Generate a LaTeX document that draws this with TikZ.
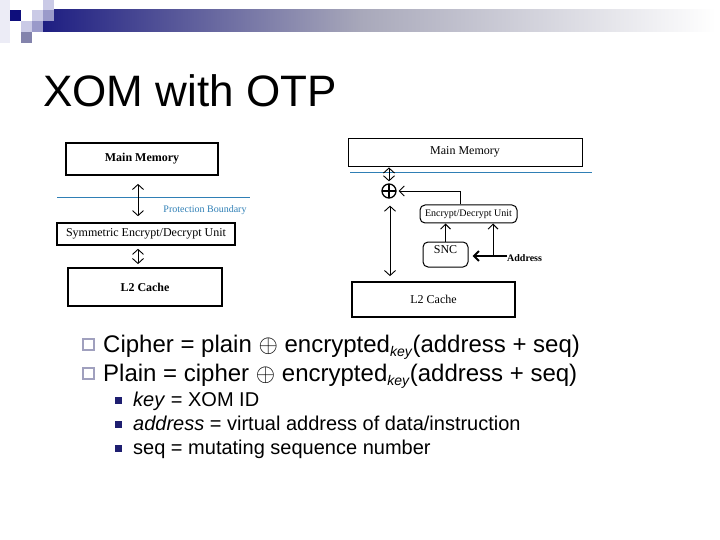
\documentclass[tikz,border=0pt]{standalone}
\usepackage{fontspec}
\setmainfont{Liberation Sans}
\newfontfamily\serifdiag{Liberation Serif}
\usepackage{xcolor}
\usepackage{tikz}
\usetikzlibrary{shapes,arrows.meta,positioning}

\definecolor{barnavy}{HTML}{1E1E82}
\definecolor{barmid}{HTML}{A8A8BA}
\definecolor{sqdark}{HTML}{0E0E7C}
\definecolor{sqlight}{HTML}{CACAE6}
\definecolor{sqmid}{HTML}{9A9ACA}
\definecolor{sqfaint}{HTML}{ECECF6}
\definecolor{bulgray}{HTML}{A0A0BE}
\definecolor{subnavy}{HTML}{1E1E70}
\definecolor{bndblue}{HTML}{2F7FB5}

\newcommand{\keysub}{\raisebox{-4pt}{\fontsize{14}{14}\selectfont\textit{key}}}

\begin{document}
\begin{tikzpicture}[
    x=1pt, y=-1pt,
    box/.style={
        rectangle,
        draw,
        line width=1.8pt,
        inner sep=0pt,
        font=\serifdiag\fontsize{12}{14}\selectfont
    },
    thinbox/.style={
        rectangle,
        draw,
        line width=0.9pt,
        inner sep=0pt,
        font=\serifdiag\fontsize{12}{14}\selectfont
    },
    rbox/.style={
        rectangle,
        draw,
        rounded corners=5pt,
        line width=1pt,
        inner sep=0pt,
        font=\serifdiag\fontsize{10}{12}\selectfont
    },
    xorop/.style={
        circle,
        draw,
        line width=1.3pt,
        minimum size=14pt,
        inner sep=0pt,
        path picture={
            \draw[line width=1.3pt] (path picture bounding box.north) -- (path picture bounding box.south)
                (path picture bounding box.west) -- (path picture bounding box.east);
        }
    },
    dbl/.style={
        draw, line width=0.9pt,
        {Straight Barb[length=5pt,width=11pt]}-{Straight Barb[length=5pt,width=11pt]}
    },
    tip/.style={
        draw, line width=0.9pt,
        -{Straight Barb[length=5pt,width=10pt]}
    },
    bnd/.style={draw=bndblue, line width=1pt},
    bul/.style={rectangle, draw=bulgray, line width=1.8pt, minimum size=11pt, inner sep=0pt},
    subbul/.style={rectangle, fill=subnavy, minimum size=7pt, inner sep=0pt},
    txt/.style={anchor=base west, font=\fontsize{24}{28}\selectfont},
    subtxt/.style={anchor=base west, font=\fontsize{20}{24}\selectfont}
]
    \useasboundingbox (0,0) rectangle (720,540);

    % Header
    \fill[sqfaint] (0,0) rectangle (10,43);
    \shade[left color=barnavy, right color=barmid] (43,10) rectangle (361,32);
    \shade[left color=barmid, right color=white] (360,10) rectangle (716,32);
    \fill[sqlight] (43,0) rectangle (54,10);
    \fill[sqdark] (10,10) rectangle (21,21);
    \fill[sqlight] (32,10) rectangle (43,21);
    \fill[sqmid] (43,10) rectangle (54,21);
    \fill[sqlight] (21,21) rectangle (32,32);
    \fill[sqmid] (32,21) rectangle (43,32);
    \fill[sqmid!85!black] (21,32) rectangle (32,43);

    \node[anchor=base west, font=\fontsize{44}{50}\selectfont, inner sep=0pt] (title) at (43,107) {XOM with OTP};

    % Nodes (left)
    \node[box, minimum width=152pt, minimum height=32pt, font=\serifdiag\fontsize{12}{14}\selectfont\bfseries] (mainL) at (142,159) {Main Memory};
    \node[thinbox, line width=1.6pt, below of=mainL, node distance=75pt, xshift=4pt, minimum width=178pt, minimum height=22pt] (symL) {Symmetric Encrypt/Decrypt Unit};
    \node[box, below of=symL, node distance=53pt, xshift=-1pt, minimum width=154pt, minimum height=38pt, font=\serifdiag\fontsize{12}{14}\selectfont\bfseries] (l2L) {L2 Cache};
    \coordinate (bndLa) at (57,198);
    \coordinate (bndLb) at (250,198);
    \node[anchor=base, text=bndblue, font=\serifdiag\fontsize{10}{12}\selectfont, inner sep=0pt] (protL) at (205,212) {Protection Boundary};

    % Nodes (right)
    \node[thinbox, minimum width=234pt, minimum height=28pt] (mainR) at (465,152) {Main Memory};
    \node[xorop] (xor) at (389,191) {};
    \node[rbox, minimum width=97pt, minimum height=18pt] (encR) at (468.5,214) {Encrypt/Decrypt Unit};
    \node[rbox, below of=encR, node distance=40.5pt, xshift=-23pt, minimum width=45pt, minimum height=25pt, text depth=9pt, font=\serifdiag\fontsize{12}{14}\selectfont] (sncR) {SNC};
    \node[anchor=west, inner sep=0pt, font=\serifdiag\fontsize{10}{12}\selectfont\bfseries] (addr) at (507,258) {Address};
    \coordinate (branch) at (493,256);
    \node[box, minimum width=163pt, minimum height=35pt] (l2R) at (433.5,299.5) {L2 Cache};
    \coordinate (bndRa) at (350,173);
    \coordinate (bndRb) at (592,173);

    % Edges
    \path[bnd] (bndLa) -- (bndLb);
    \path[bnd] (bndRa) -- (bndRb);
    \path[dbl, shorten <=8pt, shorten >=6pt] ([xshift=-4pt]mainL.south) -- ([xshift=-4pt]mainL.south |- symL.north);
    \path[dbl, shorten <=3pt, shorten >=3pt] ([xshift=-8pt]symL.south) -- ([xshift=-8pt]symL.south |- l2L.north);
    \path[dbl, shorten <=1pt, shorten >=2pt] (mainR.south -| xor) -- (xor.north);
    \path[dbl, shorten <=7pt, shorten >=5pt] ([xshift=1pt]xor.south) -- ([xshift=1pt]xor.south |- l2R.north);
    \path[tip, shorten >=2pt] ([xshift=-8.5pt]encR.north) |- (xor.east);
    \path[tip] (sncR.north) -- (sncR.north |- encR.south);
    \path[tip, line width=2pt, shorten >=4pt] (addr.west |- branch) -- (branch -| sncR.east);
    \path[tip] (branch) -- (branch |- encR.south);

    % Bullets
    \node[bul] (c1) at (88.5,344.5) {};
    \node[txt, inner sep=0pt] (cipher) at (103,352) {Cipher = plain $\oplus$ encrypted\keysub(address + seq)};
    \node[bul] (c2) at (88.5,373.5) {};
    \node[txt, inner sep=0pt] (plain) at (103,381) {Plain = cipher $\oplus$ encrypted\keysub(address + seq)};
    \node[subbul] (s1) at (118,400) {};
    \node[subtxt, inner sep=0pt] (keyl) at (133,406) {\textit{key} = XOM ID};
    \node[subbul] (s2) at (118,424) {};
    \node[subtxt, inner sep=0pt] (addrl) at (133,430) {\textit{address} = virtual address of data/instruction};
    \node[subbul] (s3) at (118,448) {};
    \node[subtxt, inner sep=0pt] (seql) at (133,454) {seq = mutating sequence number};

\end{tikzpicture}
\end{document}
